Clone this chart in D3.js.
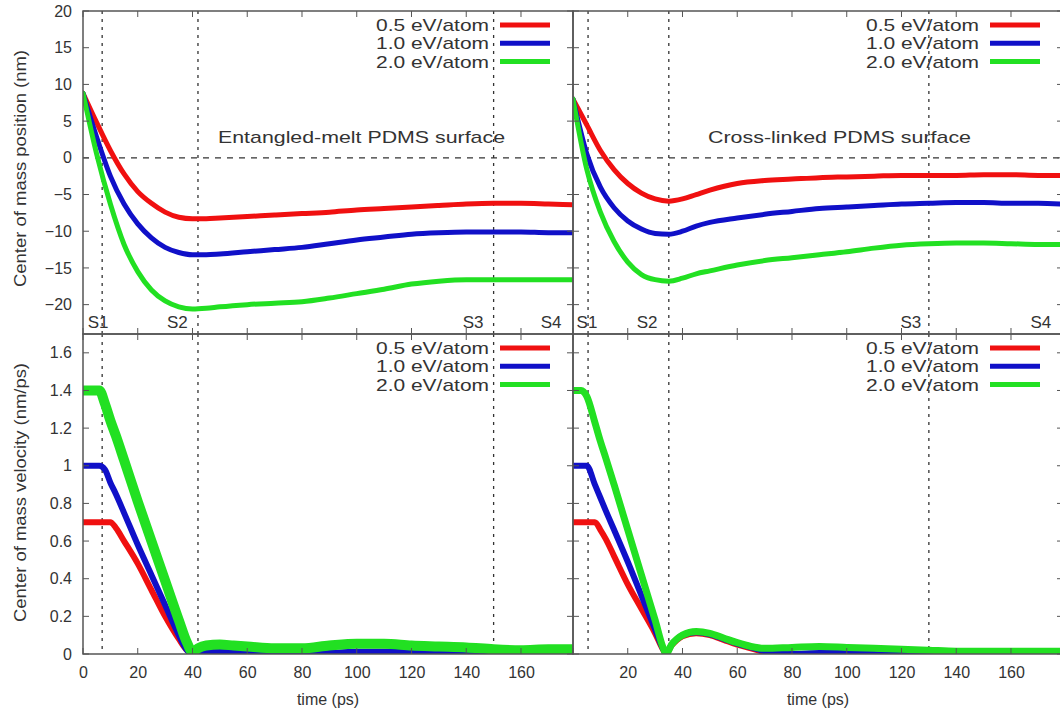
<!DOCTYPE html>
<html>
<head>
<meta charset="utf-8">
<script src="https://cdn.jsdelivr.net/npm/d3@7"></script>
<style>
  body { margin: 0; background: #fff; }
  text { font-family: "Liberation Sans", Arial, Helvetica, sans-serif; fill: #333; }
</style>
</head>
<body>
<svg id="chart" width="1060" height="715"></svg>
<script>
// ---- data ----
var energies = ["0.5 eV/atom", "1.0 eV/atom", "2.0 eV/atom"];
var colors = ["#f01010", "#1010c8", "#22e022"];

// centre of mass position (nm) vs time (ps)
var tPos = [0, 5, 10, 15, 20, 25, 30, 35, 40, 45, 50, 60, 70, 80, 90, 100, 110, 120, 130, 140, 150, 160, 170, 179];
var meltRed   = [8.8, 4.8, 1.0, -2.2, -4.6, -6.2, -7.4, -8.1, -8.3, -8.3, -8.2, -8.0, -7.8, -7.6, -7.4, -7.1, -6.9, -6.7, -6.5, -6.3, -6.2, -6.2, -6.3, -6.4];
var meltBlue  = [8.8, 2.8, -2.5, -6.3, -9.0, -10.9, -12.2, -12.9, -13.2, -13.2, -13.1, -12.8, -12.5, -12.2, -11.7, -11.2, -10.8, -10.4, -10.2, -10.1, -10.1, -10.1, -10.2, -10.2];
var meltGreen = [8.8, 0.5, -6.3, -11.8, -15.5, -18.0, -19.5, -20.3, -20.6, -20.5, -20.3, -20.0, -19.8, -19.6, -19.1, -18.5, -17.9, -17.2, -16.8, -16.6, -16.6, -16.6, -16.6, -16.6];
var crossRed   = [8.0, 4.5, 1.0, -1.6, -3.5, -4.8, -5.6, -5.9, -5.6, -5.0, -4.4, -3.5, -3.1, -2.9, -2.7, -2.6, -2.5, -2.4, -2.4, -2.4, -2.3, -2.3, -2.4, -2.4];
var crossBlue  = [8.0, 0.6, -4.0, -6.8, -8.6, -9.7, -10.3, -10.4, -10.0, -9.3, -8.8, -8.2, -7.7, -7.3, -6.9, -6.7, -6.5, -6.3, -6.2, -6.1, -6.1, -6.2, -6.2, -6.3];
var crossGreen = [8.0, -1.5, -7.4, -11.4, -14.2, -15.9, -16.6, -16.8, -16.4, -15.8, -15.4, -14.6, -14.0, -13.6, -13.2, -12.8, -12.3, -11.9, -11.7, -11.6, -11.6, -11.7, -11.8, -11.8];

// centre of mass velocity (nm/ps) vs time (ps)
var tVelMelt = [0, 3, 6, 8, 10, 12, 15, 20, 25, 30, 35, 38, 40, 42, 45, 50, 55, 60, 70, 80, 90, 100, 110, 120, 130, 140, 150, 160, 170, 179];
var velMeltRed   = [0.70, 0.70, 0.70, 0.70, 0.70, 0.67, 0.60, 0.48, 0.34, 0.20, 0.08, 0.02, 0.005, 0.01, 0.012, 0.01, 0.005, 0.0, -0.008, -0.008, 0.0, 0.01, 0.012, 0.008, 0.003, 0.0, 0.0, 0.004, 0.006, 0.006];
var velMeltBlue  = [1.00, 1.00, 1.00, 0.98, 0.91, 0.85, 0.75, 0.58, 0.42, 0.26, 0.10, 0.02, 0.0, 0.01, 0.015, 0.012, 0.008, 0.004, -0.005, -0.005, 0.005, 0.012, 0.012, 0.008, 0.003, 0.0, 0.0, 0.005, 0.008, 0.008];
var velMeltGreen = [1.40, 1.40, 1.40, 1.33, 1.24, 1.16, 1.03, 0.81, 0.60, 0.39, 0.18, 0.06, 0.01, 0.03, 0.045, 0.05, 0.045, 0.04, 0.03, 0.03, 0.045, 0.055, 0.055, 0.045, 0.04, 0.035, 0.025, 0.02, 0.025, 0.025];
var tVelCross = [0, 3, 5, 8, 10, 12, 15, 20, 25, 30, 33, 34, 36, 38, 40, 45, 50, 55, 60, 65, 70, 80, 90, 100, 110, 120, 130, 140, 150, 160, 170, 179];
var velCrossRed   = [0.70, 0.70, 0.70, 0.70, 0.66, 0.61, 0.52, 0.37, 0.24, 0.11, 0.02, 0.0, 0.045, 0.075, 0.095, 0.11, 0.10, 0.075, 0.05, 0.03, 0.01, -0.005, 0.0, 0.0, -0.005, -0.005, -0.005, 0.0, 0.0, 0.005, 0.005, 0.005];
var velCrossBlue  = [1.00, 1.00, 1.00, 0.90, 0.83, 0.76, 0.66, 0.49, 0.31, 0.13, 0.025, 0.0, 0.05, 0.08, 0.10, 0.115, 0.105, 0.08, 0.055, 0.035, 0.015, 0.0, 0.005, 0.005, 0.0, -0.005, -0.005, 0.0, 0.0, 0.005, 0.005, 0.005];
var velCrossGreen = [1.40, 1.40, 1.37, 1.23, 1.13, 1.04, 0.90, 0.66, 0.42, 0.18, 0.03, 0.0, 0.05, 0.08, 0.10, 0.12, 0.11, 0.085, 0.06, 0.04, 0.03, 0.035, 0.04, 0.035, 0.03, 0.025, 0.02, 0.015, 0.015, 0.015, 0.015, 0.015];

var timeTicks = [0, 20, 40, 60, 80, 100, 120, 140, 160];
var posTicks = [-20, -15, -10, -5, 0, 5, 10, 15, 20];
var velTicks = [0, 0.2, 0.4, 0.6, 0.8, 1.0, 1.2, 1.4, 1.6];

// stage markers (ps) and where their labels sit
var stagesMelt = [7, 42, 150];
var stagesCross = [5.5, 35, 130];
var stageLabels = ["S1", "S2", "S3", "S4"];
var stageLabelTMelt = [5.5, 34.5, 142.5, 171];
var stageLabelTCross = [5.1, 27.1, 123.4, 170.9];

var titles = ["Entangled-melt PDMS surface", "Cross-linked PDMS surface"];

// ---- layout ----
var svg = d3.select("#chart");
var xL = d3.scaleLinear().domain([0, 179]).range([83, 573]);
var xR = d3.scaleLinear().domain([0, 179]).range([573, 1063]);
var yTop = d3.scaleLinear().domain([-24, 20]).range([334, 11]);
var yBot = d3.scaleLinear().domain([0, 1.7]).range([654, 334]);

var frameColor = "#555";
var defs = svg.append("defs");

function zip(t, v) {
  return t.map(function(d, i) { return [d, v[i]]; });
}

var panels = [
  {id: "tl", x: xL, y: yTop, t: tPos, series: [meltRed, meltBlue, meltGreen], widths: [5, 5, 5], stages: stagesMelt, zero: true},
  {id: "tr", x: xR, y: yTop, t: tPos, series: [crossRed, crossBlue, crossGreen], widths: [5, 5, 5], stages: stagesCross, zero: true},
  {id: "bl", x: xL, y: yBot, t: tVelMelt, series: [velMeltRed, velMeltBlue, velMeltGreen], widths: [6, 6, 10], stages: stagesMelt, zero: false},
  {id: "br", x: xR, y: yBot, t: tVelCross, series: [velCrossRed, velCrossBlue, velCrossGreen], widths: [6, 6, 7], stages: stagesCross, zero: false}
];

panels.forEach(function(p) {
  var x0 = p.x.range()[0], x1 = p.x.range()[1];
  var yA = p.y.range()[1], yB = p.y.range()[0];

  defs.append("clipPath").attr("id", "clip-" + p.id)
    .append("rect").attr("x", x0).attr("y", yA).attr("width", x1 - x0).attr("height", yB - yA);

  var g = svg.append("g");

  // dashed stage lines
  g.selectAll(".stage").data(p.stages).enter().append("line")
    .attr("x1", function(d) { return p.x(d); }).attr("x2", function(d) { return p.x(d); })
    .attr("y1", yA).attr("y2", yB)
    .attr("stroke", "#333").attr("stroke-width", 1.3).attr("stroke-dasharray", "3,5");

  if (p.zero) {
    g.append("line")
      .attr("x1", x0).attr("x2", x1).attr("y1", p.y(0)).attr("y2", p.y(0))
      .attr("stroke", "#333").attr("stroke-width", 1.3).attr("stroke-dasharray", "6,6");
  }

  var line = d3.line()
    .x(function(d) { return p.x(d[0]); })
    .y(function(d) { return p.y(d[1]); })
    .curve(d3.curveMonotoneX);

  g.append("g").attr("clip-path", "url(#clip-" + p.id + ")")
    .selectAll("path").data(p.series).enter().append("path")
    .attr("d", function(s) { return line(zip(p.t, s)); })
    .attr("fill", "none")
    .attr("stroke", function(s, i) { return colors[i]; })
    .attr("stroke-width", function(s, i) { return p.widths[i]; })
    .attr("stroke-linejoin", "round")
    .attr("stroke-linecap", "round");

  // legend
  var leg = g.append("g");
  energies.forEach(function(e, i) {
    var ly = yA + 14 + i * 18.3;
    leg.append("text").attr("x", x1 - 197).attr("y", ly + 6)
      .attr("font-size", 17)
      .attr("textLength", 113).attr("lengthAdjust", "spacingAndGlyphs")
      .text(e);
    leg.append("line").attr("x1", x1 - 73).attr("x2", x1 - 23)
      .attr("y1", ly).attr("y2", ly)
      .attr("stroke", colors[i]).attr("stroke-width", 5);
  });

  // inward ticks on all sides
  var ticksY = (p.y === yTop) ? posTicks : velTicks;
  ticksY.forEach(function(v) {
    g.append("line").attr("x1", x0).attr("x2", x0 + 6).attr("y1", p.y(v)).attr("y2", p.y(v)).attr("stroke", frameColor);
    g.append("line").attr("x1", x1).attr("x2", x1 - 6).attr("y1", p.y(v)).attr("y2", p.y(v)).attr("stroke", frameColor);
  });
  timeTicks.forEach(function(v) {
    g.append("line").attr("x1", p.x(v)).attr("x2", p.x(v)).attr("y1", yA).attr("y2", yA + 6).attr("stroke", frameColor);
    g.append("line").attr("x1", p.x(v)).attr("x2", p.x(v)).attr("y1", yB).attr("y2", yB - 6).attr("stroke", frameColor);
  });

  // frame
  g.append("rect").attr("x", x0).attr("y", yA).attr("width", x1 - x0).attr("height", yB - yA)
    .attr("fill", "none").attr("stroke", frameColor).attr("stroke-width", 1.5);
});

// stage labels on the top panels
[[xL, stageLabelTMelt], [xR, stageLabelTCross]].forEach(function(s) {
  svg.selectAll(null).data(stageLabels).enter().append("text")
    .attr("x", function(d, i) { return s[0](s[1][i]); })
    .attr("y", 328)
    .attr("text-anchor", "middle").attr("font-size", 17)
    .text(function(d) { return d; });
});

// panel titles
svg.append("text").attr("x", 218).attr("y", 143)
  .attr("font-size", 17).attr("textLength", 287).attr("lengthAdjust", "spacingAndGlyphs").text(titles[0]);
svg.append("text").attr("x", 708).attr("y", 143)
  .attr("font-size", 17).attr("textLength", 263).attr("lengthAdjust", "spacingAndGlyphs").text(titles[1]);

// y axes with labels (left panels only)
function styleAxis(sel) {
  sel.select(".domain").remove();
  sel.selectAll(".tick line").remove();
  sel.attr("font-size", 16).attr("font-family", null).style("color", "#333");
}
svg.append("g").attr("transform", "translate(83,0)")
  .call(d3.axisLeft(yTop).tickValues(posTicks).tickSize(0).tickPadding(11).tickFormat(d3.format("d")))
  .call(styleAxis);
svg.append("g").attr("transform", "translate(83,0)")
  .call(d3.axisLeft(yBot).tickValues(velTicks).tickSize(0).tickPadding(11)
    .tickFormat(function(d) { return d === 0 ? "0" : d === 1 ? "1" : d3.format(".1f")(d); }))
  .call(styleAxis);

// x axes
svg.append("g").attr("transform", "translate(0,654)")
  .call(d3.axisBottom(xL).tickValues(timeTicks).tickSize(0).tickPadding(13))
  .call(styleAxis);
svg.append("g").attr("transform", "translate(0,654)")
  .call(d3.axisBottom(xR).tickValues(timeTicks.slice(1)).tickSize(0).tickPadding(13))
  .call(styleAxis);

// axis titles
svg.append("text").attr("transform", "translate(26,287) rotate(-90)")
  .attr("font-size", 17)
  .attr("textLength", 237).attr("lengthAdjust", "spacingAndGlyphs").text("Center of mass position (nm)");
svg.append("text").attr("transform", "translate(26,622) rotate(-90)")
  .attr("font-size", 17)
  .attr("textLength", 259).attr("lengthAdjust", "spacingAndGlyphs").text("Center of mass velocity (nm/ps)");
svg.append("text").attr("x", 328).attr("y", 705).attr("text-anchor", "middle").attr("font-size", 16).text("time (ps)");
svg.append("text").attr("x", 818).attr("y", 705).attr("text-anchor", "middle").attr("font-size", 16).text("time (ps)");
</script>
</body>
</html>
